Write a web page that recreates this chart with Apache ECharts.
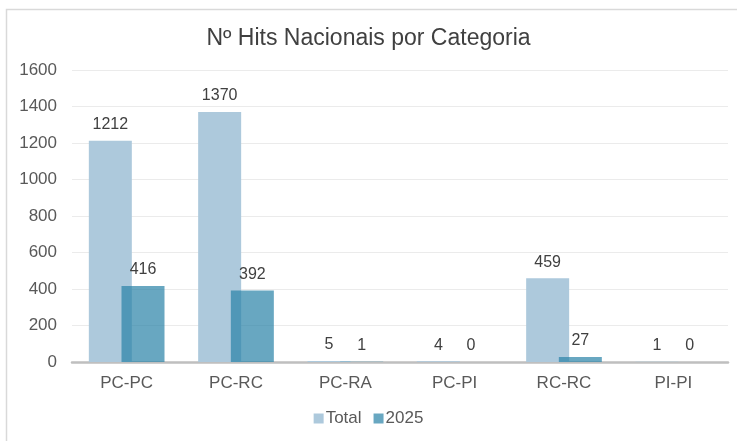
<!DOCTYPE html>
<html>
<head>
<meta charset="utf-8">
<script src="https://cdn.jsdelivr.net/npm/echarts@6/dist/echarts.min.js"></script>
<style>
html, body { margin: 0; padding: 0; background: #fff; }
#main { width: 737px; height: 441px; }
</style>
</head>
<body>
<div id="main"></div>
<script>
// dados do gráfico
var categorias = ['PC-PC', 'PC-RC', 'PC-RA', 'PC-PI', 'RC-RC', 'PI-PI'];
var totalValores = [1212, 1370, 5, 4, 459, 1];
var valores2025 = [416, 392, 1, 0, 27, 0];
var serieNomes = ['Total', '2025'];

var chart = echarts.init(document.getElementById('main'));

var labelTopo = {
    show: true,
    position: 'top',
    distance: 8,
    color: '#404040',
    fontSize: 16,
    fontFamily: 'Liberation Sans'
};

var option = {
    backgroundColor: '#fff',
    textStyle: { fontFamily: 'Liberation Sans' },
    // moldura cinzenta à volta
    graphic: [{
        type: 'rect',
        shape: { x: 6.5, y: 9.5, width: 740, height: 440 },
        style: { fill: 'none', stroke: '#d9d9d9', lineWidth: 1.5 },
        silent: true
    }],
    title: {
        text: 'Nº Hits Nacionais por Categoria',
        left: 'center',
        top: 22,
        textStyle: {
            fontSize: 23,
            fontWeight: 'normal',
            color: '#404040',
            fontFamily: 'Liberation Sans'
        }
    },
    legend: {
        data: serieNomes,
        bottom: 9,
        left: 'center',
        itemWidth: 10,
        itemHeight: 10,
        itemGap: 12,
        icon: 'rect',
        textStyle: { fontSize: 17, color: '#595959', padding: [0, 0, 0, -3] }
    },
    grid: {
        left: 72,
        right: 9,
        top: 70,
        bottom: 79,
        containLabel: false
    },
    xAxis: {
        type: 'category',
        data: categorias,
        axisLine: { lineStyle: { color: '#bfbfbf', width: 2.5 } },
        axisTick: { show: false },
        axisLabel: { fontSize: 17, color: '#595959', margin: 13 }
    },
    yAxis: {
        type: 'value',
        min: 0,
        max: 1600,
        interval: 200,
        axisLine: { show: false },
        axisTick: { show: false },
        axisLabel: {
            fontSize: 17,
            color: '#595959',
            margin: 15,
            formatter: function (v) { return String(v); }
        },
        splitLine: { lineStyle: { color: '#ebebeb', width: 1.2 } }
    },
    series: [
        {
            name: serieNomes[0],
            type: 'bar',
            data: totalValores,
            barWidth: 43,
            barGap: '-24%',
            itemStyle: { color: '#adc9dc' },
            label: labelTopo
        },
        {
            name: serieNomes[1],
            type: 'bar',
            data: valores2025,
            barWidth: 43,
            barGap: '-24%',
            itemStyle: { color: 'rgba(40,129,166,0.7)' },
            label: labelTopo
        }
    ]
};

chart.setOption(option);
</script>
</body>
</html>
